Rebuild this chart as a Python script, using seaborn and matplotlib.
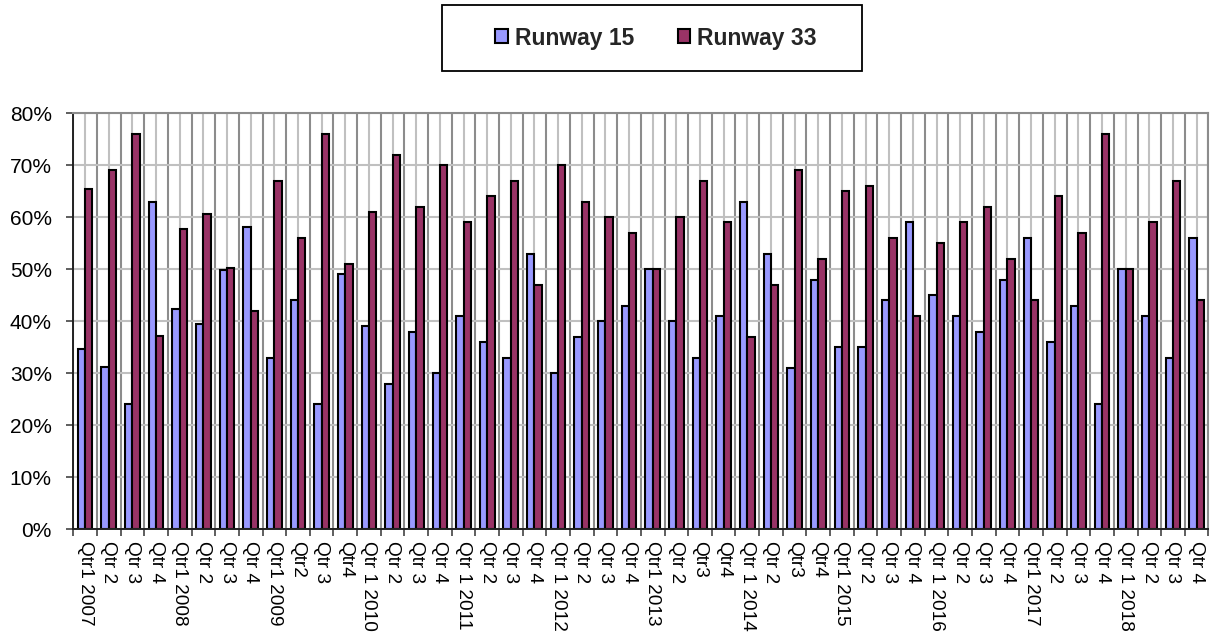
import matplotlib
matplotlib.use("Agg")
import matplotlib.pyplot as plt
import matplotlib.patches as mpatches
from matplotlib.ticker import PercentFormatter, FixedLocator
import seaborn as sns
import pandas as pd

quarters = [
    "Qtr1 2007", "Qtr 2", "Qtr 3", "Qtr 4",
    "Qtr1 2008", "Qtr 2", "Qtr 3", "Qtr 4",
    "Qtr1 2009", "Qtr2", "Qtr 3", "Qtr4",
    "Qtr 1 2010", "Qtr 2", "Qtr 3", "Qtr 4",
    "Qtr 1 2011", "Qtr 2", "Qtr 3", "Qtr 4",
    "Qtr 1 2012", "Qtr 2", "Qtr 3", "Qtr 4",
    "Qtr1 2013", "Qtr 2", "Qtr3", "Qtr4",
    "Qtr 1 2014", "Qtr 2", "Qtr3", "Qtr4",
    "Qtr1 2015", "Qtr 2", "Qtr 3", "Qtr 4",
    "Qtr 1 2016", "Qtr 2", "Qtr 3", "Qtr 4",
    "Qtr1 2017", "Qtr 2", "Qtr 3", "Qtr 4",
    "Qtr 1 2018", "Qtr 2", "Qtr 3", "Qtr 4",
]

runway15 = [34.6, 31.3, 24.0, 62.9, 42.4, 39.5, 49.9, 58.1,
            33, 44, 24, 49, 39, 28, 38, 30,
            41, 36, 33, 53, 30, 37, 40, 43,
            50, 40, 33, 41, 63, 53, 31, 48,
            35, 35, 44, 59, 45, 41, 38, 48,
            56, 36, 43, 24, 50, 41, 33, 56]
runway33 = [65.5, 69.0, 76.1, 37.2, 57.8, 60.7, 50.2, 42.0,
            67, 56, 76, 51, 61, 72, 62, 70,
            59, 64, 67, 47, 70, 63, 60, 57,
            50, 60, 67, 59, 37, 47, 69, 52,
            65, 66, 56, 41, 55, 59, 62, 52,
            44, 64, 57, 76, 50, 59, 67, 44]

series_names = ["Runway 15", "Runway 33"]
colors = ["#9999FF", "#993366"]

n = len(quarters)
df = pd.DataFrame({
    "period": list(range(n)) * 2,
    "value": [v / 100 for v in runway15] + [v / 100 for v in runway33],
    "series": [series_names[0]] * n + [series_names[1]] * n,
})

sns.set_theme(style="white")
plt.rcParams["font.family"] = ["Liberation Sans", "DejaVu Sans"]

fig = plt.figure(figsize=(12.16, 6.35), dpi=100)
ax = fig.add_axes([0.0603, 0.1665, 0.9335, 0.6551])

sns.barplot(data=df, x="period", y="value", hue="series", hue_order=series_names,
            palette=colors, width=0.62, edgecolor="black", linewidth=1.5,
            saturation=1, ax=ax, legend=False, errorbar=None)

ax.set_xlim(-0.5, n - 0.5)
ax.set_ylim(0, 0.8)
ax.yaxis.set_major_formatter(PercentFormatter(1.0, decimals=0))
ax.set_yticks([i / 10 for i in range(9)])

ax.set_xticks(range(n))
ax.set_xticklabels(quarters, rotation=270, ha="center", va="top", fontsize=13.7, color="black")
ax.xaxis.set_minor_locator(FixedLocator([i - 0.5 for i in range(n + 1)]))

ax.tick_params(axis="x", which="major", length=0, pad=8.5)
ax.tick_params(axis="x", which="minor", length=5, width=1.1, color="#333333", direction="out", bottom=True)
ax.tick_params(axis="y", which="major", length=5, width=1.1, color="#333333", direction="out",
               left=True, pad=10.5, labelsize=15, labelcolor="black")
ax.set_xlabel("")
ax.set_ylabel("")

ax.set_axisbelow(True)
ax.grid(True, axis="y", which="major", color="#C0C0C0", linewidth=1.5)
ax.grid(True, axis="x", which="major", color="#C0C0C0", linewidth=1.5)
ax.grid(True, axis="x", which="minor", color="#8C8C8C", linewidth=1.5)

for side in ["left", "bottom"]:
    ax.spines[side].set_color("#222222")
    ax.spines[side].set_linewidth(1.4)
for side in ["top", "right"]:
    ax.spines[side].set_color("#8C8C8C")
    ax.spines[side].set_linewidth(1.5)

# legend box
W, H = 1216, 635
box = mpatches.Rectangle((442 / W, 1 - 71 / H), (862 - 442) / W, (71 - 5) / H,
                         transform=fig.transFigure, facecolor="white",
                         edgecolor="black", linewidth=1.3)
fig.patches.append(box)
handles = [mpatches.Patch(facecolor=c, edgecolor="black", linewidth=1.5) for c in colors]
fig.legend(handles, series_names, loc="center", bbox_to_anchor=(656 / W, 1 - 38 / H),
           ncol=2, frameon=False, prop={"weight": "bold", "size": 16.5},
           handlelength=0.55, handleheight=0.55, handletextpad=0.3, columnspacing=1.9)

fig.savefig("out.png", dpi=100)
